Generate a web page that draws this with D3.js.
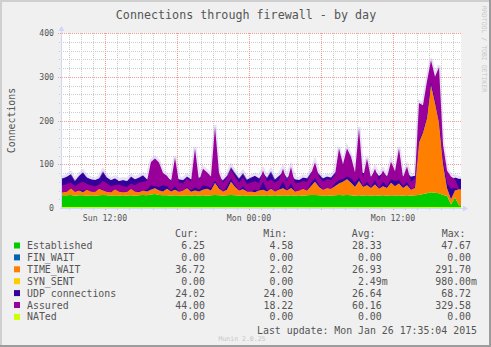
<!DOCTYPE html>
<html>
<head>
<meta charset="utf-8">
<script src="https://cdn.jsdelivr.net/npm/d3@7"></script>
<style>
  body { margin: 0; background: #f0f0f0; }
  text { font-family: "DejaVu Sans Mono", monospace; }
</style>
</head>
<body>
<div id="chart"></div>
<script>
// 20-minute samples from Sun 08:20 to Mon 17:40
const established = [
  29, 29, 30, 28, 29, 29, 28, 29, 28, 29,
  30, 29, 28, 29, 28, 29, 28, 29, 28, 29,
  30, 29, 31, 32, 30, 29, 29, 28, 29, 28,
  28, 29, 28, 29, 28, 29, 28, 29, 30, 29,
  28, 29, 30, 29, 28, 29, 28, 28, 28, 29,
  28, 29, 28, 29, 28, 29, 28, 29, 28, 29,
  28, 29, 30, 30, 29, 28, 29, 28, 29, 30,
  29, 30, 29, 28, 29, 28, 29, 28, 29, 28,
  29, 28, 29, 28, 29, 28, 29, 28, 29, 30,
  32, 34, 36, 35, 34, 30, 28, 8, 24, 6.25
];
const finWait = [
  0, 0, 0, 0, 0, 0, 0, 0, 0, 0, 0, 0, 0, 0, 0, 0, 0, 0, 0, 0,
  0, 0, 0, 0, 0, 0, 0, 0, 0, 0, 0, 0, 0, 0, 0, 0, 0, 0, 0, 0,
  0, 0, 0, 0, 0, 0, 0, 0, 0, 0, 0, 0, 0, 0, 0, 0, 0, 0, 0, 0,
  0, 0, 0, 0, 0, 0, 0, 0, 0, 0, 0, 0, 0, 0, 0, 0, 0, 0, 0, 0,
  0, 0, 0, 0, 0, 0, 0, 0, 0, 0, 0, 0, 0, 0, 0, 0, 0, 0, 0, 0
];
const timeWait = [
  7, 9, 15, 9, 11, 7, 14, 9, 9, 15,
  10, 8, 8, 14, 10, 7, 9, 15, 10, 7,
  10, 9, 11, 13, 10, 9, 15, 10, 13, 9,
  12, 16, 9, 11, 10, 13, 16, 11, 27, 15,
  10, 13, 30, 19, 12, 14, 10, 10, 8, 11,
  14, 9, 16, 9, 14, 16, 12, 17, 10, 11,
  16, 11, 20, 30, 19, 14, 17, 16, 21, 26,
  31, 36, 29, 20, 33, 20, 23, 18, 25, 16,
  21, 18, 29, 22, 27, 18, 23, 14, 17, 120,
  140, 171, 246, 205, 161, 70, 17, 12, 16, 36.72
];
const synSent = [
  0, 0, 0, 0, 0, 0, 0, 0, 0, 0, 0, 0, 0, 0, 0, 0, 0, 0, 0, 0,
  0, 0, 0, 0, 0, 0, 0, 0, 0, 0, 0, 0, 0, 0, 0, 0, 0, 0, 0, 0,
  0, 0, 0, 0, 0, 0, 0, 0, 0, 0, 0, 0, 0, 0, 0, 0, 0, 0, 0, 0,
  0, 0, 0, 0, 0, 0, 0, 0, 0, 0, 0, 0, 0, 0, 0, 0, 0, 0, 0, 0,
  0, 0, 0, 0, 0, 0, 0, 0, 0, 0, 0, 0, 0, 0, 0, 0, 0, 0, 0, 0
];
const udp = [
  32, 34, 33, 26, 34, 46, 28, 28, 27, 24,
  44, 33, 28, 25, 24, 28, 25, 28, 28, 34,
  35, 28, 30, 25, 28, 34, 26, 26, 28, 29,
  24, 27, 29, 28, 32, 30, 26, 26, 25, 24,
  26, 32, 34, 32, 28, 37, 27, 32, 38, 28,
  38, 32, 40, 28, 32, 37, 30, 30, 28, 24,
  26, 28, 32, 28, 30, 26, 26, 26, 31, 28,
  26, 26, 30, 30, 28, 32, 28, 26, 30, 30,
  30, 27, 28, 32, 28, 26, 28, 30, 28, 25,
  24, 25, 25, 25, 25, 28, 31, 44, 30, 24.02
];
const assured = [
  52, 55, 58, 50, 56, 60, 55, 52, 50, 54,
  62, 56, 50, 52, 54, 50, 48, 56, 52, 58,
  60, 62, 105, 113, 104, 80, 74, 60, 115, 58,
  56, 68, 60, 136, 62, 90, 82, 72, 186, 80,
  58, 70, 88, 72, 58, 70, 55, 58, 62, 56,
  86, 60, 66, 58, 64, 90, 60, 94, 56, 58,
  62, 60, 78, 104, 72, 60, 66, 64, 76, 136,
  100, 136, 117, 82, 182, 70, 113, 68, 90, 64,
  86, 70, 106, 84, 136, 70, 95, 60, 68, 240,
  235, 290, 338, 300, 322, 145, 86, 72, 66, 44
];
const nated = [
  0, 0, 0, 0, 0, 0, 0, 0, 0, 0, 0, 0, 0, 0, 0, 0, 0, 0, 0, 0,
  0, 0, 0, 0, 0, 0, 0, 0, 0, 0, 0, 0, 0, 0, 0, 0, 0, 0, 0, 0,
  0, 0, 0, 0, 0, 0, 0, 0, 0, 0, 0, 0, 0, 0, 0, 0, 0, 0, 0, 0,
  0, 0, 0, 0, 0, 0, 0, 0, 0, 0, 0, 0, 0, 0, 0, 0, 0, 0, 0, 0,
  0, 0, 0, 0, 0, 0, 0, 0, 0, 0, 0, 0, 0, 0, 0, 0, 0, 0, 0, 0
];

const seriesNames = ["Established", "FIN_WAIT", "TIME_WAIT", "SYN_SENT", "UDP connections", "Assured", "NATed"];
const seriesColors = ["#00cc00", "#0066b3", "#ff8000", "#ffcc00", "#330099", "#990099", "#ccff00"];
const curValues = ["6.25", "0.00", "36.72", "0.00", "24.02", "44.00", "0.00"];
const minValues = ["4.58", "0.00", "2.02", "0.00", "24.00", "18.22", "0.00"];
const avgValues = ["28.33", "0.00", "26.93", "2.49m", "26.64", "60.16", "0.00"];
const maxValues = ["47.67", "0.00", "291.70", "980.00m", "68.72", "329.58", "0.00"];
const yTicks = [0, 100, 200, 300, 400];
const xLabelTimes = ["2015-01-25 12:00", "2015-01-26 00:00", "2015-01-26 12:00"];

const parseTime = d3.timeParse("%Y-%m-%d %H:%M");
const startTime = parseTime("2015-01-25 08:20");
const endTime = parseTime("2015-01-26 17:40");
const stepMinutes = 20;

const width = 491;
const height = 347;

const svg = d3.select("#chart")
  .append("svg")
  .attr("width", width)
  .attr("height", height);

// background and shaded border
svg.append("rect").attr("width", width).attr("height", height).attr("fill", "#f0f0f0");
svg.append("rect").attr("x", 0).attr("y", 0).attr("width", width).attr("height", 2).attr("fill", "#cfcfcf");
svg.append("rect").attr("x", 0).attr("y", 0).attr("width", 2).attr("height", height).attr("fill", "#cfcfcf");
svg.append("rect").attr("x", width - 2).attr("y", 0).attr("width", 2).attr("height", height).attr("fill", "#9c9c9c");
svg.append("rect").attr("x", 0).attr("y", height - 2).attr("width", width).attr("height", 2).attr("fill", "#9c9c9c");

const x = d3.scaleTime().domain([startTime, endTime]).range([61, 461]);
const y = d3.scaleLinear().domain([0, 400]).range([208, 33]);

// canvas
svg.append("rect")
  .attr("x", 61).attr("y", 33)
  .attr("width", 400).attr("height", 175)
  .attr("fill", "#ffffff");

// grid
const grid = svg.append("g").attr("stroke-dasharray", "1,1").attr("shape-rendering", "crispEdges");
const hours = d3.timeHour.range(startTime, endTime);
const minorYs = d3.range(20, 400, 20).filter(v => v % 100 !== 0);

grid.selectAll("line.vminor")
  .data(hours.filter(h => h.getHours() % 6 !== 0))
  .enter().append("line")
  .attr("x1", d => Math.round(x(d)) + 0.5).attr("x2", d => Math.round(x(d)) + 0.5)
  .attr("y1", 33).attr("y2", 210)
  .attr("stroke", "#cccccc");

grid.selectAll("line.hminor")
  .data(minorYs)
  .enter().append("line")
  .attr("x1", 59).attr("x2", 461)
  .attr("y1", d => Math.round(y(d)) + 0.5).attr("y2", d => Math.round(y(d)) + 0.5)
  .attr("stroke", "#cccccc");

grid.selectAll("line.vmajor")
  .data(hours.filter(h => h.getHours() % 6 === 0))
  .enter().append("line")
  .attr("x1", d => Math.round(x(d)) + 0.5).attr("x2", d => Math.round(x(d)) + 0.5)
  .attr("y1", 33).attr("y2", 211)
  .attr("stroke", "#f29a9a");

grid.selectAll("line.hmajor")
  .data(yTicks.filter(v => v > 0))
  .enter().append("line")
  .attr("x1", 58).attr("x2", 461)
  .attr("y1", d => Math.round(y(d)) + 0.5).attr("y2", d => Math.round(y(d)) + 0.5)
  .attr("stroke", "#f29a9a");

// data table, one row per sample at the middle of its interval,
// plus the first and last sample repeated at the graph edges
const rows = established.map((d, i) => ({
  t: d3.timeMinute.offset(startTime, i * stepMinutes + stepMinutes / 2),
  est: d, fin: finWait[i], tw: timeWait[i], syn: synSent[i], udp: udp[i],
  assured: assured[i], nated: nated[i]
}));
rows.unshift(Object.assign({}, rows[0], { t: startTime }));
rows.push(Object.assign({}, rows[rows.length - 1], { t: endTime }));

const keys = ["est", "fin", "tw", "syn", "udp"];
const stacked = d3.stack().keys(keys)(rows);

const area = d3.area()
  .x(d => x(d.data.t))
  .y0(d => y(d[0]))
  .y1(d => y(d[1]));

svg.append("g")
  .selectAll("path")
  .data(stacked)
  .enter().append("path")
  .attr("d", area)
  .attr("fill", (d, i) => seriesColors[i]);

// Assured: drawn as a band over the stack (the zigzag line fills in at this size)
const assuredBottom = d => {
  const tw = d.est + d.fin + d.tw + d.syn;
  const top = tw + d.udp;
  return Math.max(tw, Math.min(top, d.assured) - 20);
};
const assuredArea = d3.area()
  .x(d => x(d.t))
  .y0(d => y(assuredBottom(d)))
  .y1(d => y(Math.max(d.assured, assuredBottom(d))));

// faint halo above the peaks
svg.append("path")
  .datum(rows)
  .attr("d", d3.line().x(d => x(d.t)).y(d => y(Math.max(d.assured, d.est + d.tw + d.udp)) - 1.5))
  .attr("fill", "none")
  .attr("stroke", "#c4b6e6")
  .attr("stroke-opacity", 0.4)
  .attr("stroke-width", 3);

svg.append("path")
  .datum(rows)
  .attr("d", assuredArea)
  .attr("fill", seriesColors[5]);

// NATed line
svg.append("path")
  .datum(rows)
  .attr("d", d3.line().x(d => x(d.t)).y(d => y(d.nated) - 0.5))
  .attr("fill", "none")
  .attr("stroke", seriesColors[6])
  .attr("stroke-width", 1);

// axes
const axisColor = "#cfd6f8";
svg.append("line").attr("x1", 61.5).attr("x2", 61.5).attr("y1", 209).attr("y2", 30).attr("stroke", axisColor);
svg.append("line").attr("x1", 60).attr("x2", 464).attr("y1", 208.5).attr("y2", 208.5).attr("stroke", axisColor);
svg.append("path").attr("d", "M58.5,31L61.5,26L64.5,31Z").attr("fill", axisColor);
svg.append("path").attr("d", "M463,205.5L468,208.5L463,211.5Z").attr("fill", axisColor);

// tick labels
svg.append("g")
  .selectAll("text")
  .data(yTicks)
  .enter().append("text")
  .attr("x", 54)
  .attr("y", d => y(d) + 3)
  .attr("text-anchor", "end")
  .attr("font-size", "8.2px")
  .attr("fill", "#555")
  .text(d => d);

const fmtX = d3.timeFormat("%a %H:%M");
svg.append("g")
  .selectAll("text")
  .data(xLabelTimes.map(parseTime))
  .enter().append("text")
  .attr("x", d => x(d))
  .attr("y", 221)
  .attr("text-anchor", "middle")
  .attr("font-size", "8.2px")
  .attr("fill", "#555")
  .text(d => fmtX(d));

// titles
svg.append("text")
  .attr("x", 246).attr("y", 19)
  .attr("text-anchor", "middle")
  .attr("font-size", "11.7px")
  .attr("fill", "#555")
  .text("Connections through firewall - by day");

svg.append("text")
  .attr("transform", "translate(14.5,120.5) rotate(-90)")
  .attr("text-anchor", "middle")
  .attr("font-size", "9.9px")
  .attr("fill", "#555")
  .text("Connections");

svg.append("text")
  .attr("transform", "translate(482,6) rotate(90)")
  .attr("font-size", "6.5px")
  .attr("fill", "#c8c8c8")
  .text("RRDTOOL / TOBI OETIKER");

svg.append("text")
  .attr("x", 242).attr("y", 340.5)
  .attr("text-anchor", "middle")
  .attr("font-size", "6.5px")
  .attr("fill", "#c8c8c8")
  .text("Munin 2.0.25");

// legend
const legend = svg.append("g").attr("font-size", "9.9px").attr("fill", "#555");
const headers = [["Cur:", 175], ["Min:", 263.3], ["Avg:", 351.7], ["Max:", 441.7]];
headers.forEach(h => {
  legend.append("text").attr("x", h[1]).attr("y", 237).text(h[0]);
});

function valueText(str, xRight, yBase) {
  const hasM = str.endsWith("m");
  legend.append("text").attr("x", xRight).attr("y", yBase)
    .attr("text-anchor", "end").text(hasM ? str.slice(0, -1) : str);
  if (hasM) legend.append("text").attr("x", xRight).attr("y", yBase).text("m");
}

seriesNames.forEach((name, i) => {
  const yc = 245.5 + i * 11.9;
  legend.append("rect")
    .attr("x", 14).attr("y", yc - 3)
    .attr("width", 6).attr("height", 6)
    .attr("fill", seriesColors[i]);
  legend.append("text").attr("x", 27).attr("y", yc + 3.5).text(name);
  valueText(curValues[i], 205, yc + 3.5);
  valueText(minValues[i], 293.3, yc + 3.5);
  valueText(avgValues[i], 381.7, yc + 3.5);
  valueText(maxValues[i], 471, yc + 3.5);
});

legend.append("text")
  .attr("x", 477).attr("y", 333.5)
  .attr("text-anchor", "end")
  .text("Last update: Mon Jan 26 17:35:04 2015");
</script>
</body>
</html>
